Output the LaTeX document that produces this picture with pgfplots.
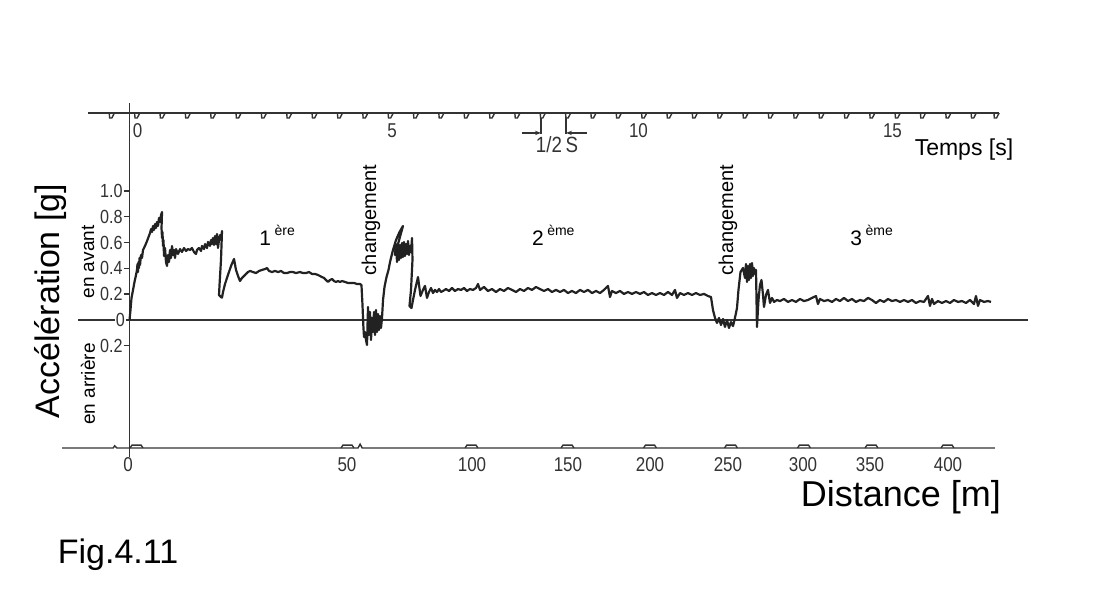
\documentclass[border=0pt]{standalone}
\usepackage{pgfplots}
\pgfplotsset{compat=1.18}
\usepackage{fontspec}
\setmainfont{Liberation Sans}
\newfontfamily\scanfont{Liberation Sans}[FakeStretch=0.85]
\usetikzlibrary{arrows.meta}
\definecolor{ink}{HTML}{222222}
\definecolor{scan}{HTML}{333333}
\pgfdeclareplotmark{notch}{%
  \pgfpathmoveto{\pgfpoint{-0.2pt}{0pt}}%
  \pgfpathlineto{\pgfpoint{0pt}{-2.5pt}}%
  \pgfpathlineto{\pgfpoint{1.1pt}{-2.5pt}}%
  \pgfpathlineto{\pgfpoint{2.4pt}{0pt}}%
  \pgfusepathqstroke}
\pgfdeclareplotmark{bump}{%
  \pgfpathmoveto{\pgfpoint{-3.2pt}{0pt}}%
  \pgfpathlineto{\pgfpoint{-2.3pt}{1.4pt}}%
  \pgfpathlineto{\pgfpoint{2.3pt}{1.4pt}}%
  \pgfpathlineto{\pgfpoint{3.2pt}{0pt}}%
  \pgfusepathqstroke}
\pgfdeclareplotmark{ltick}{%
  \pgfpathmoveto{\pgfpoint{-3pt}{0pt}}%
  \pgfpathlineto{\pgfpoint{0pt}{0pt}}%
  \pgfusepathqstroke}
\begin{document}
\begin{tikzpicture}
\begin{axis}[
  width=550pt, height=300pt, scale only axis,
  xmin=-2.663, xmax=19.034, ymin=-2.1705, ymax=2.4806,
  hide axis, clip=false,
]
\path (rel axis cs:0,0) rectangle (rel axis cs:1,1);
% vertical axis line
\addplot[scan, line width=0.7pt] coordinates {(-0.108,1.682) (-0.108,-1.062)};
% zero line
\addplot[scan, line width=0.7pt] coordinates {(-1.124,0) (17.613,0)};
% y ticks
\addplot[scan, line width=0.7pt, only marks, mark=ltick] coordinates {(-0.108,1.0)(-0.108,0.8)(-0.108,0.6)(-0.108,0.4)(-0.108,0.2)(-0.108,-0.2)};
% time line with half-second notches
\addplot[scan, line width=0.7pt] coordinates {(-0.927,1.605) (17.05,1.605)};
\addplot[scan, line width=0.7pt, only marks, mark=notch] coordinates {
(-0.5,1.605)(0,1.605)(0.5,1.605)(1,1.605)(1.5,1.605)(2,1.605)(2.5,1.605)(3,1.605)(3.5,1.605)
(4,1.605)(4.5,1.605)(5,1.605)(5.5,1.605)(6,1.605)(6.5,1.605)(7,1.605)(7.5,1.605)(8,1.605)
(8.5,1.605)(9,1.605)(9.5,1.605)(10,1.605)(10.5,1.605)(11,1.605)(11.5,1.605)(12,1.605)
(12.5,1.605)(13,1.605)(13.5,1.605)(14,1.605)(14.5,1.605)(15,1.605)(15.5,1.605)(16,1.605)
(16.5,1.605)(16.95,1.605)};
% 1/2 s indicator
\addplot[scan, line width=0.7pt] coordinates {(8.008,1.566) (8.008,1.445)};
\addplot[scan, line width=0.7pt] coordinates {(8.501,1.566) (8.501,1.445)};
\addplot[scan, line width=0.7pt, -{Stealth[length=3pt,width=2.2pt]}] coordinates {(7.633,1.450) (8.008,1.450)};
\addplot[scan, line width=0.7pt, -{Stealth[length=3pt,width=2.2pt]}] coordinates {(8.915,1.450) (8.501,1.450)};
% distance line with 50 m marks
\addplot[scan, line width=0.7pt] coordinates {(-1.44,-0.992) (-0.43,-0.992) (-0.40,-0.975) (-0.36,-0.992) (4.40,-0.992) (4.44,-0.962) (4.48,-0.992) (16.96,-0.992)};
\addplot[scan, line width=0.7pt, only marks, mark=bump] coordinates {
(0.030,-0.992)(4.191,-0.992)(6.637,-0.992)(8.531,-0.992)(10.158,-0.992)(11.755,-0.992)(13.195,-0.992)(14.527,-0.992)(16.026,-0.992)};
% acceleration record
\addplot[ink, line width=1.1pt, line join=round] coordinates {
(-0.108,0) (-0.089,0.078) (-0.069,0.171) (-0.039,0.233) (-0.010,0.295) (0.020,0.349) (0.039,0.388) (0.049,0.434) (0.059,0.372) (0.069,0.450) (0.079,0.403) (0.089,0.481) (0.099,0.426) (0.118,0.504) (0.138,0.481) (0.158,0.543) (0.197,0.574) (0.237,0.612) (0.266,0.643) (0.296,0.674) (0.316,0.705) (0.335,0.682) (0.355,0.729) (0.375,0.698) (0.394,0.744) (0.414,0.713) (0.434,0.760) (0.454,0.729) (0.473,0.791) (0.493,0.760) (0.513,0.814) (0.533,0.837) (0.523,0.713) (0.533,0.636) (0.542,0.682) (0.552,0.574) (0.562,0.620) (0.572,0.496) (0.592,0.558) (0.611,0.450) (0.631,0.419) (0.651,0.504) (0.671,0.450) (0.690,0.543) (0.710,0.481) (0.730,0.574) (0.750,0.504) (0.769,0.543) (0.789,0.481) (0.809,0.550) (0.848,0.512) (0.888,0.550) (0.927,0.527) (0.966,0.558) (1.006,0.535) (1.045,0.550) (1.085,0.543) (1.124,0.558) (1.164,0.527) (1.203,0.512) (1.223,0.543) (1.262,0.558) (1.302,0.535) (1.321,0.574) (1.361,0.550) (1.381,0.589) (1.420,0.558) (1.440,0.605) (1.479,0.574) (1.499,0.620) (1.519,0.589) (1.538,0.636) (1.558,0.581) (1.578,0.651) (1.598,0.589) (1.617,0.667) (1.637,0.558) (1.657,0.620) (1.677,0.659) (1.696,0.620) (1.716,0.690) (1.696,0.465) (1.667,0.271) (1.657,0.194) (1.696,0.178) (1.716,0.174) (1.736,0.217) (1.775,0.279) (1.834,0.349) (1.894,0.419) (1.953,0.473) (1.992,0.388) (2.032,0.341) (2.071,0.302) (2.110,0.326) (2.150,0.341) (2.189,0.357) (2.229,0.372) (2.268,0.380) (2.327,0.372) (2.387,0.364) (2.446,0.380) (2.505,0.388) (2.564,0.395) (2.604,0.403) (2.643,0.380) (2.702,0.372) (2.761,0.380) (2.821,0.372) (2.880,0.380) (2.939,0.364) (2.998,0.364) (3.057,0.372) (3.116,0.372) (3.176,0.364) (3.254,0.372) (3.314,0.364) (3.373,0.364) (3.432,0.372) (3.491,0.357) (3.550,0.357) (3.609,0.349) (3.649,0.341) (3.688,0.333) (3.728,0.326) (3.767,0.310) (3.807,0.295) (3.846,0.310) (3.886,0.318) (3.925,0.302) (3.964,0.295) (4.004,0.302) (4.043,0.295) (4.083,0.302) (4.142,0.295) (4.201,0.287) (4.260,0.287) (4.320,0.287) (4.379,0.279) (4.438,0.279) (4.467,0.271) (4.487,0.116) (4.503,-0.039) (4.517,-0.132) (4.536,-0.093) (4.556,-0.155) (4.576,-0.194) (4.596,0.101) (4.615,-0.116) (4.635,0.062) (4.655,-0.155) (4.675,0.016) (4.694,-0.093) (4.714,0.062) (4.734,-0.116) (4.753,0.078) (4.773,-0.093) (4.793,0.047) (4.813,-0.078) (4.832,0.031) (4.852,-0.062) (4.872,0.016) (4.892,0.155) (4.921,0.256) (4.961,0.333) (5.000,0.388) (5.030,0.450) (5.089,0.543) (5.148,0.620) (5.217,0.682) (5.286,0.729) (5.128,0.504) (5.148,0.589) (5.168,0.450) (5.187,0.574) (5.207,0.465) (5.227,0.581) (5.247,0.481) (5.266,0.597) (5.286,0.488) (5.306,0.605) (5.325,0.496) (5.345,0.589) (5.365,0.512) (5.385,0.612) (5.404,0.504) (5.424,0.574) (5.444,0.527) (5.464,0.636) (5.473,0.465) (5.444,0.233) (5.414,0.109) (5.454,0.093) (5.483,0.155) (5.523,0.233) (5.582,0.333) (5.631,0.186) (5.680,0.233) (5.720,0.264) (5.759,0.171) (5.799,0.217) (5.838,0.248) (5.878,0.209) (5.917,0.233) (5.957,0.217) (5.996,0.240) (6.036,0.217) (6.075,0.225) (6.134,0.240) (6.193,0.225) (6.252,0.248) (6.312,0.225) (6.371,0.240) (6.430,0.233) (6.489,0.248) (6.548,0.225) (6.607,0.240) (6.667,0.233) (6.726,0.248) (6.765,0.279) (6.805,0.233)
(6.884,0.256) (6.962,0.225) (7.041,0.240) (7.120,0.217) (7.199,0.240) (7.278,0.225) (7.357,0.248) (7.436,0.233) (7.515,0.217) (7.594,0.240) (7.673,0.225) (7.751,0.248) (7.830,0.233) (7.909,0.256) (7.988,0.240) (8.067,0.225) (8.146,0.240) (8.225,0.217) (8.304,0.233) (8.383,0.217) (8.462,0.233) (8.540,0.209) (8.619,0.225) (8.698,0.209) (8.777,0.233) (8.856,0.217) (8.935,0.233) (9.014,0.209) (9.093,0.225) (9.172,0.209) (9.250,0.233) (9.329,0.264) (9.369,0.178) (9.408,0.225) (9.487,0.209) (9.566,0.225) (9.645,0.202) (9.724,0.217) (9.803,0.202) (9.882,0.217) (9.961,0.202) (10.039,0.217) (10.118,0.194) (10.197,0.209) (10.276,0.194) (10.355,0.209) (10.434,0.194) (10.513,0.217) (10.592,0.194) (10.651,0.233) (10.690,0.171) (10.750,0.209) (10.828,0.194) (10.907,0.209) (10.986,0.194) (11.065,0.209) (11.144,0.194) (11.223,0.202) (11.302,0.186) (11.361,0.178) (11.400,0.078) (11.440,0.016) (11.479,-0.023) (11.519,0.016) (11.558,-0.039) (11.598,0.008) (11.637,-0.054) (11.677,0) (11.716,-0.062) (11.755,-0.016) (11.795,-0.047) (11.834,0.016) (11.874,0.093) (11.903,0.233) (11.943,0.372) (11.992,0.403) (12.032,0.326) (12.051,0.434) (12.071,0.295) (12.091,0.419) (12.110,0.310) (12.130,0.434) (12.150,0.326) (12.170,0.442) (12.189,0.341) (12.209,0.403) (12.229,0.357) (12.249,0.388) (12.268,-0.054) (12.298,0.155) (12.327,0.271) (12.357,0.310) (12.387,0.194) (12.406,0.101) (12.446,0.194) (12.485,0.233) (12.525,0.132) (12.564,0.171) (12.604,0.140) (12.663,0.155)
(12.722,0.147) (12.801,0.163) (12.880,0.140) (12.959,0.155) (13.037,0.140) (13.116,0.163) (13.195,0.147) (13.274,0.155) (13.353,0.171) (13.432,0.186) (13.471,0.124) (13.511,0.163) (13.590,0.147) (13.669,0.155) (13.748,0.140) (13.826,0.163) (13.905,0.147) (13.984,0.171) (14.063,0.147) (14.142,0.163) (14.221,0.140) (14.300,0.155) (14.379,0.147) (14.458,0.171) (14.536,0.155) (14.615,0.132) (14.694,0.155) (14.773,0.140) (14.852,0.163) (14.931,0.147) (15.010,0.155) (15.089,0.140) (15.168,0.155) (15.247,0.140) (15.325,0.155) (15.404,0.132) (15.483,0.147) (15.562,0.140) (15.641,0.186) (15.680,0.109) (15.720,0.163) (15.759,0.124) (15.838,0.147) (15.917,0.132) (15.996,0.147) (16.075,0.132) (16.154,0.155) (16.233,0.140) (16.312,0.147) (16.391,0.132) (16.469,0.155) (16.548,0.124) (16.588,0.186) (16.627,0.109) (16.667,0.155) (16.746,0.140) (16.824,0.147) (16.884,0.140)};
% y tick labels
\begin{scope}[every node/.style={anchor=east, inner sep=0pt, text=scan, font=\scanfont\fontsize{9.5}{11}\selectfont}]
\node at (axis cs:-0.237,1.0) {1.0};
\node at (axis cs:-0.237,0.8) {0.8};
\node at (axis cs:-0.237,0.6) {0.6};
\node at (axis cs:-0.237,0.4) {0.4};
\node at (axis cs:-0.237,0.2) {0.2};
\node[fill=white, inner sep=0.6pt] at (axis cs:-0.17,0) {0};
\node at (axis cs:-0.237,-0.2) {0.2};
\end{scope}
% time labels
\begin{scope}[every node/.style={inner sep=0pt, text=scan, font=\scanfont\fontsize{10}{12}\selectfont}]
\node at (axis cs:0.049,1.465) {0};
\node at (axis cs:5.069,1.465) {5};
\node at (axis cs:9.931,1.465) {10};
\node at (axis cs:14.941,1.465) {15};
\node[font=\scanfont\fontsize{11}{13}\selectfont] at (axis cs:8.323,1.357) {1/2\,S};
\end{scope}
% distance labels
\begin{scope}[every node/.style={inner sep=0pt, text=scan, font=\scanfont\fontsize{10}{12}\selectfont}]
\node at (axis cs:-0.138,-1.124) {0};
\node at (axis cs:4.181,-1.124) {50};
\node at (axis cs:6.647,-1.124) {100};
\node at (axis cs:8.540,-1.124) {150};
\node at (axis cs:10.158,-1.124) {200};
\node at (axis cs:11.696,-1.124) {250};
\node at (axis cs:13.176,-1.124) {300};
\node at (axis cs:14.497,-1.124) {350};
\node at (axis cs:16.036,-1.124) {400};
\end{scope}
% annotations
\node[font=\fontsize{11.5}{13}\selectfont] at (axis cs:16.351,1.318) {Temps [s]};
\node[rotate=90, font=\fontsize{10}{12}\selectfont] at (axis cs:4.655,0.775) {changement};
\node[rotate=90, font=\fontsize{10}{12}\selectfont] at (axis cs:11.696,0.775) {changement};
\node[anchor=base west, inner sep=0pt, font=\fontsize{10.5}{12}\selectfont] at (axis cs:2.446,0.581) {1\,\raisebox{5pt}{\fontsize{7}{8}\selectfont ère}};
\node[anchor=base west, inner sep=0pt, font=\fontsize{10.5}{12}\selectfont] at (axis cs:7.824,0.581) {2\,\raisebox{5pt}{\fontsize{7}{8}\selectfont ème}};
\node[anchor=base west, inner sep=0pt, font=\fontsize{10.5}{12}\selectfont] at (axis cs:14.103,0.581) {3\,\raisebox{5pt}{\fontsize{7}{8}\selectfont ème}};
\node[rotate=90, font=\fontsize{9.5}{11}\selectfont] at (axis cs:-0.927,0.450) {en avant};
\node[rotate=90, font=\fontsize{9.5}{11}\selectfont] at (axis cs:-0.927,-0.496) {en arrière};
\node[rotate=90, font=\fontsize{17}{20}\selectfont] at (axis cs:-1.657,0.147) {Accélération [g]};
\node[font=\fontsize{18}{21}\selectfont] at (axis cs:15.108,-1.372) {Distance [m]};
\node[font=\fontsize{17}{20}\selectfont] at (axis cs:-0.335,-1.822) {Fig.4.11};
\end{axis}
\end{tikzpicture}
\end{document}
